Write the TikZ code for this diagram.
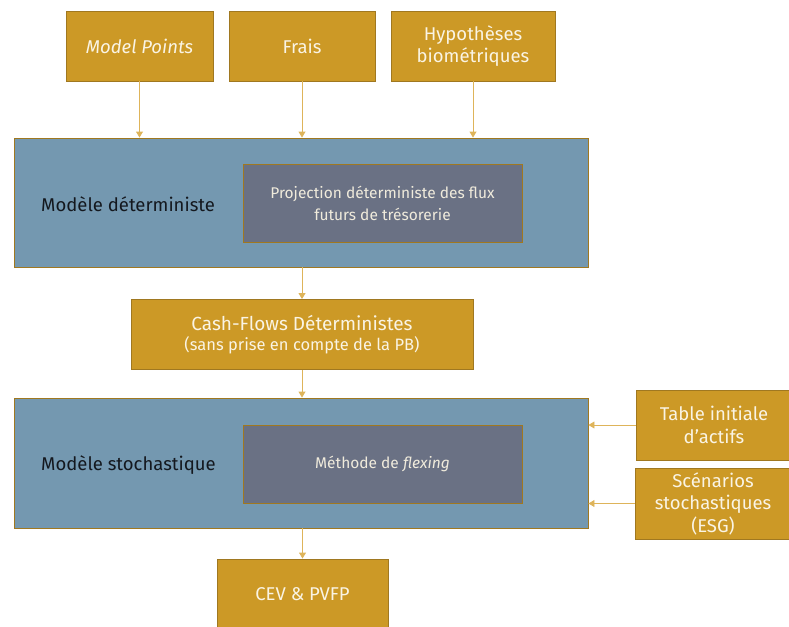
\documentclass[tikz,border=0pt]{standalone}
\usepackage{fontspec}
\setmainfont{Fira Sans}
\usetikzlibrary{arrows.meta,positioning}
\definecolor{gold}{RGB}{204,153,38}
\definecolor{goldedge}{RGB}{160,120,32}
\definecolor{goldline}{RGB}{222,180,90}
\definecolor{steel}{RGB}{116,152,176}
\definecolor{slate}{RGB}{106,113,132}
\definecolor{cream}{RGB}{250,244,228}
\definecolor{inktext}{RGB}{20,24,30}
\tikzset{
  px/.style={x=1pt,y=-1pt},
  goldbox/.style={draw=goldedge,line width=0.9pt,fill=gold,text=cream,align=center,
    font=\fontsize{18.5}{22.5}\selectfont,inner sep=0pt},
  modelbox/.style={draw=goldedge,line width=0.9pt,fill=steel},
  innerbox/.style={draw=goldedge,line width=0.7pt,fill=slate,text=cream!92!gray,align=center,
    font=\fontsize{15.5}{22}\selectfont,inner sep=0pt},
  modellabel/.style={text=inktext,font=\fontsize{18.5}{22}\selectfont,anchor=west,inner sep=0pt},
  flow/.style={draw=goldline,line width=0.9pt,-{Triangle[width=7pt,length=6pt]}},
}
\begin{document}
\begin{tikzpicture}[px]
\useasboundingbox (0,0) rectangle (789,626);
% inputs
\node[goldbox,minimum width=147pt,minimum height=70pt] (mp) at (139.5,46) {\itshape Model Points};
\node[goldbox,minimum width=146pt,minimum height=70pt] (fr) at (302,46) {Frais};
\node[goldbox,minimum width=164pt,minimum height=70pt] (hy) at (473,46) {Hypothèses\\biométriques};
% deterministic model
\node[modelbox,minimum width=574pt,minimum height=129pt] (det) at (301,202.5) {};
\node[modellabel] (detl) at (41,204) {Modèle déterministe};
\node[innerbox,minimum width=279pt,minimum height=78pt] (proj) at (382.5,203) {Projection déterministe des flux\\futurs de trésorerie};
% cash flows
\node[goldbox,minimum width=342pt,minimum height=70pt] (cf) at (302,334.5)
  {{\fontsize{19}{22}\selectfont Cash-Flows Déterministes}\\[-2pt]{\fontsize{16.5}{19}\selectfont(sans prise en compte de la PB)}};
% stochastic model
\node[modelbox,minimum width=574pt,minimum height=130pt] (sto) at (301,463) {};
\node[modellabel] (stol) at (41,465) {Modèle stochastique};
\node[innerbox,minimum width=279pt,minimum height=78pt] (flex) at (382.5,464) {Méthode de \textit{flexing}};
% side inputs
\node[goldbox,minimum width=156pt,minimum height=70pt] (tab) at (714,425) {Table initiale\\d’actifs};
\node[goldbox,minimum width=156pt,minimum height=71pt] (esg) at (713,503.5) {Scénarios\\stochastiques\\(ESG)};
% output
\node[goldbox,minimum width=171pt,minimum height=70pt] (cev) at (302.5,594) {CEV \& PVFP};
% connectors
\draw[flow] (mp.south) -- (mp.south |- det.north);
\draw[flow] (fr.south) -- (fr.south |- det.north);
\draw[flow] (hy.south) -- (hy.south |- det.north);
\draw[flow] (det.south -| cf.north) -- (cf.north);
\draw[flow] (cf.south) -- (cf.south |- sto.north);
\draw[flow] (sto.south -| cev.north) -- (cev.north);
\draw[flow] (tab.west) -- (tab.west -| sto.east);
\draw[flow] (esg.west) -- (esg.west -| sto.east);
\end{tikzpicture}
\end{document}
